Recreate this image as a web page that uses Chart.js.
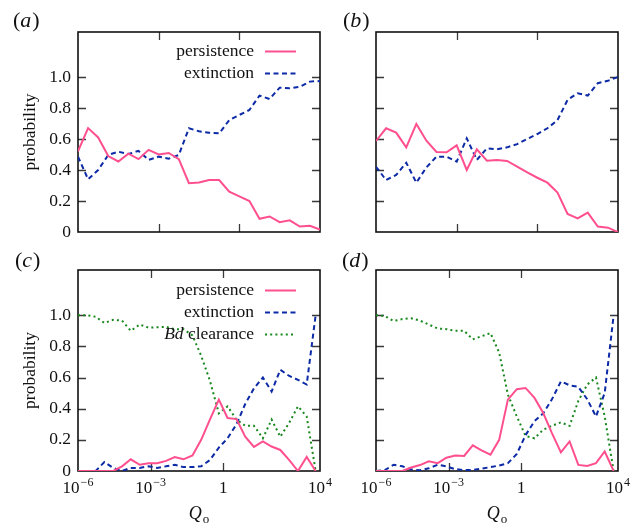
<!DOCTYPE html>
<html>
<head>
<meta charset="utf-8">
<script src="https://cdn.jsdelivr.net/npm/chart.js@4.4.0/dist/chart.umd.min.js"></script>
<style>
html, body { margin: 0; padding: 0; background: #fff; }
#fig { position: relative; width: 644px; height: 531px; overflow: hidden; }
#fig canvas { position: absolute; left: 0; top: 0; }
</style>
</head>
<body>
<div id="fig">
  <canvas id="pa" width="644" height="531"></canvas>
  <canvas id="pb" width="644" height="531"></canvas>
  <canvas id="pc" width="644" height="531"></canvas>
  <canvas id="pd" width="644" height="531"></canvas>
</div>
<script>
// log10(Q) of the sample points
const topQexp = [-6, -5.625, -5.25, -4.875, -4.5, -4.125, -3.75, -3.375, -3, -2.625, -2.25, -1.875,
  -1.5, -1.125, -0.75, -0.375, 0, 0.375, 0.75, 1.125, 1.5, 1.875, 2.25, 2.625, 3];
const bottomQexp = [-6, -5.64, -5.27, -4.91, -4.55, -4.18, -3.82, -3.45, -3.09, -2.73, -2.36, -2,
  -1.64, -1.27, -0.91, -0.55, -0.18, 0.18, 0.55, 0.91, 1.27, 1.64, 2, 2.36, 2.73, 3.09, 3.45, 3.82];

// (a)
const aPersistence = [0.52, 0.67, 0.61, 0.49, 0.455, 0.505, 0.47, 0.53, 0.50, 0.51, 0.47, 0.315, 0.32,
  0.335, 0.335, 0.26, 0.23, 0.20, 0.085, 0.10, 0.063, 0.075, 0.035, 0.04, 0.015];
const aExtinction = [0.486, 0.34, 0.40, 0.497, 0.518, 0.503, 0.523, 0.465, 0.486, 0.473, 0.497, 0.669,
  0.65, 0.64, 0.636, 0.722, 0.755, 0.787, 0.88, 0.858, 0.931, 0.927, 0.937, 0.97, 0.974];
// (b)
const bPersistence = [0.587, 0.669, 0.641, 0.546, 0.697, 0.589, 0.516, 0.514, 0.559, 0.40, 0.533, 0.46,
  0.465, 0.458, 0.422, 0.385, 0.35, 0.318, 0.254, 0.116, 0.088, 0.125, 0.035, 0.028, 0.0];
const bExtinction = [0.421, 0.335, 0.368, 0.447, 0.318, 0.417, 0.486, 0.486, 0.454, 0.604, 0.465, 0.54,
  0.533, 0.546, 0.567, 0.60, 0.632, 0.669, 0.722, 0.852, 0.895, 0.88, 0.96, 0.975, 1.0];
// (c)
const cPersistence = [0, 0, 0, 0, 0, 0.03, 0.075, 0.04, 0.05, 0.05, 0.065, 0.09, 0.075, 0.10, 0.2, 0.33,
  0.458, 0.34, 0.333, 0.22, 0.155, 0.19, 0.157, 0.135, 0.07, 0, 0.09, 0];
const cExtinction = [0, 0, 0, 0.058, 0.02, 0, 0.02, 0.02, 0.03, 0.02, 0.03, 0.04, 0.025, 0.025, 0.03, 0.07,
  0.15, 0.21, 0.3, 0.43, 0.53, 0.6, 0.51, 0.65, 0.61, 0.585, 0.555, 1.0];
const cClearance = [1.0, 1.0, 0.99, 0.95, 0.97, 0.965, 0.9, 0.94, 0.92, 0.922, 0.925, 0.91, 0.91, 0.87,
  0.74, 0.58, 0.37, 0.415, 0.33, 0.29, 0.29, 0.21, 0.33, 0.22, 0.31, 0.415, 0.35, 0];
// (d)
const dPersistence = [0, 0, 0, 0, 0.022, 0.038, 0.062, 0.05, 0.085, 0.1, 0.097, 0.165, 0.133, 0.105, 0.2,
  0.458, 0.525, 0.533, 0.469, 0.372, 0.243, 0.12, 0.19, 0.039, 0.032, 0.05, 0.125, 0];
const dExtinction = [0, 0.005, 0.04, 0.03, 0.01, 0.005, 0.017, 0.04, 0.03, 0.012, 0.006, 0.006, 0.015,
  0.025, 0.035, 0.05, 0.11, 0.23, 0.32, 0.37, 0.46, 0.575, 0.55, 0.54, 0.46, 0.35, 0.5, 1.0];
const dClearance = [1.0, 0.995, 0.963, 0.975, 0.98, 0.965, 0.94, 0.915, 0.91, 0.9, 0.9, 0.845, 0.865,
  0.885, 0.76, 0.49, 0.35, 0.225, 0.21, 0.265, 0.29, 0.312, 0.29, 0.45, 0.555, 0.6, 0.35, 0];

// axes
const yTicks = [0, 0.2, 0.4, 0.6, 0.8, 1.0];
const yTickLabels = ['0', '0.2', '0.4', '0.6', '0.8', '1.0'];
const xTicks = [1e-6, 1e-3, 1, 1e4];
const xTickBase = ['10', '10', '1', '10'];
const xTickExp = ['\u22126', '\u22123', '', '4'];
const seriesNames = ['persistence', 'extinction', 'Bd clearance'];

const SERIF = '"Liberation Serif", "Times New Roman", serif';
const PINK = '#ff4f8e';
const BLUE = '#0c2aa6';
const GREEN = '#17871c';
const TICK = 8;

const lineStyles = [
  {borderColor: PINK, borderWidth: 2, borderDash: []},
  {borderColor: BLUE, borderWidth: 2, borderDash: [5, 3.5]},
  {borderColor: GREEN, borderWidth: 2, borderDash: [2, 3.2]}
];

// frame and inward ticks, under the data lines
const framePlugin = {
  id: 'frame',
  beforeDatasetsDraw(chart) {
    const {ctx, chartArea: a, scales: {x, y}} = chart;
    ctx.save();
    ctx.strokeStyle = '#3a3a3a';
    ctx.lineWidth = 1.3;
    ctx.beginPath();
    yTicks.forEach(v => {
      if (v <= 0) return;
      const py = Math.round(y.getPixelForValue(v)) + 0.5;
      ctx.moveTo(a.left, py); ctx.lineTo(a.left + TICK, py);
      ctx.moveTo(a.right, py); ctx.lineTo(a.right - TICK, py);
    });
    xTicks.forEach(v => {
      const px = Math.round(x.getPixelForValue(v)) + 0.5;
      if (px <= a.left + 2 || px >= a.right - 2) return;
      ctx.moveTo(px, a.bottom); ctx.lineTo(px, a.bottom - TICK);
      ctx.moveTo(px, a.top); ctx.lineTo(px, a.top + TICK);
    });
    ctx.stroke();
    ctx.strokeStyle = '#111';
    ctx.lineWidth = 1.6;
    ctx.strokeRect(a.left, a.top, a.right - a.left, a.bottom - a.top);
    ctx.restore();
  }
};

// panel letter, axis titles, x tick labels and legend
const textPlugin = {
  id: 'texts',
  afterDraw(chart, args, o) {
    const {ctx, chartArea: a, scales: {x}} = chart;
    ctx.save();
    ctx.fillStyle = '#111';
    ctx.textBaseline = 'alphabetic';
    ctx.textAlign = 'left';

    // (a), (b) ...
    ctx.font = `22px ${SERIF}`;
    let tx = o.tagX;
    ctx.fillText('(', tx, o.tagY); tx += ctx.measureText('(').width;
    ctx.font = `italic 22px ${SERIF}`;
    ctx.fillText(o.tag, tx, o.tagY); tx += ctx.measureText(o.tag).width + 1;
    ctx.font = `22px ${SERIF}`;
    ctx.fillText(')', tx, o.tagY);

    if (o.left) {
      ctx.save();
      ctx.font = `17.5px ${SERIF}`;
      ctx.translate(30, (a.top + a.bottom) / 2);
      ctx.rotate(-Math.PI / 2);
      ctx.textAlign = 'center';
      ctx.textBaseline = 'middle';
      ctx.fillText('probability', 0, 0);
      ctx.restore();
    }

    if (o.bottom) {
      const base = a.bottom + 22;
      xTicks.forEach((v, i) => {
        const px = x.getPixelForValue(v);
        ctx.font = `17px ${SERIF}`;
        const w1 = ctx.measureText(xTickBase[i]).width;
        ctx.font = `12px ${SERIF}`;
        const w2 = xTickExp[i] ? ctx.measureText(xTickExp[i]).width + 1 : 0;
        const sx = px - (w1 + w2) / 2;
        ctx.font = `17px ${SERIF}`;
        ctx.fillText(xTickBase[i], sx, base);
        if (xTickExp[i]) {
          ctx.font = `12px ${SERIF}`;
          ctx.fillText(xTickExp[i], sx + w1 + 1, base - 7);
        }
      });
      // Q_o
      ctx.font = `italic 18px ${SERIF}`;
      const wq = ctx.measureText('Q').width;
      ctx.font = `13px ${SERIF}`;
      const wo = ctx.measureText('o').width;
      const qx = (a.left + a.right) / 2 - (wq + wo + 1) / 2;
      ctx.font = `italic 18px ${SERIF}`;
      ctx.fillText('Q', qx, a.bottom + 48);
      ctx.font = `13px ${SERIF}`;
      ctx.fillText('o', qx + wq + 1, a.bottom + 52);
    }

    if (o.legend) {
      const right = 254;
      chart.data.datasets.forEach((ds, i) => {
        const cy = o.legendY + i * 22;
        ctx.textBaseline = 'middle';
        ctx.font = `17.5px ${SERIF}`;
        const name = seriesNames[i];
        ctx.textAlign = 'right';
        if (name.startsWith('Bd ')) {
          const rest = name.slice(2);
          const wr = ctx.measureText(rest).width;
          ctx.fillText(rest, right, cy);
          ctx.font = `italic 17.5px ${SERIF}`;
          ctx.fillText('Bd', right - wr, cy);
        } else {
          ctx.fillText(name, right, cy);
        }
        ctx.save();
        ctx.strokeStyle = ds.borderColor;
        ctx.lineWidth = ds.borderWidth;
        ctx.setLineDash(ds.borderDash);
        ctx.beginPath();
        ctx.moveTo(265, Math.round(cy) + 0.5);
        ctx.lineTo(296, Math.round(cy) + 0.5);
        ctx.stroke();
        ctx.restore();
      });
    }
    ctx.restore();
  }
};

function makePanel(id, exps, series, xMax, opt) {
  const datasets = series.map((vals, i) => Object.assign({
    label: seriesNames[i],
    data: exps.map((e, k) => ({x: Math.pow(10, e), y: vals[k]})),
    pointRadius: 0,
    tension: 0,
    fill: false,
    borderCapStyle: 'butt',
    borderJoinStyle: 'miter'
  }, lineStyles[i]));

  return new Chart(document.getElementById(id), {
    type: 'line',
    data: {datasets},
    options: {
      responsive: false,
      animation: false,
      events: [],
      layout: {padding: opt.pad},
      scales: {
        x: {
          type: 'logarithmic',
          min: 1e-6,
          max: xMax,
          afterFit: s => { s.height = 0; },
          afterBuildTicks: s => { s.ticks = xTicks.filter(v => v <= xMax).map(v => ({value: v})); },
          grid: {display: false},
          border: {display: false},
          ticks: {display: false}
        },
        y: {
          min: 0,
          max: 1.29,
          afterFit: s => { s.width = opt.left ? 78 : 0; },
          afterBuildTicks: s => { s.ticks = yTicks.map(v => ({value: v})); },
          grid: {display: false, drawTicks: false},
          border: {display: false},
          ticks: {
            display: opt.left,
            padding: 7,
            color: '#111',
            font: {family: SERIF, size: 17.5},
            callback: (v, i) => yTickLabels[i]
          }
        }
      },
      plugins: {
        legend: {display: false},
        tooltip: {enabled: false},
        texts: opt
      }
    },
    plugins: [framePlugin, textPlugin]
  });
}

// all four canvases cover the whole figure; padding places each plot box
makePanel('pa', topQexp, [aPersistence, aExtinction], 1e3, {
  tag: 'a', tagX: 13, tagY: 27, left: true, bottom: false, legend: true, legendY: 51,
  pad: {left: 0, top: 32, right: 324, bottom: 299}
});
makePanel('pb', topQexp, [bPersistence, bExtinction], 1e3, {
  tag: 'b', tagX: 343, tagY: 27, left: false, bottom: false, legend: false,
  pad: {left: 376, top: 32, right: 26, bottom: 299}
});
makePanel('pc', bottomQexp, [cPersistence, cExtinction, cClearance], 1e4, {
  tag: 'c', tagX: 15, tagY: 267, left: true, bottom: true, legend: true, legendY: 290,
  pad: {left: 0, top: 270, right: 324, bottom: 60}
});
makePanel('pd', bottomQexp, [dPersistence, dExtinction, dClearance], 1e4, {
  tag: 'd', tagX: 342, tagY: 267, left: false, bottom: true, legend: false,
  pad: {left: 376, top: 270, right: 26, bottom: 60}
});
</script>
</body>
</html>
